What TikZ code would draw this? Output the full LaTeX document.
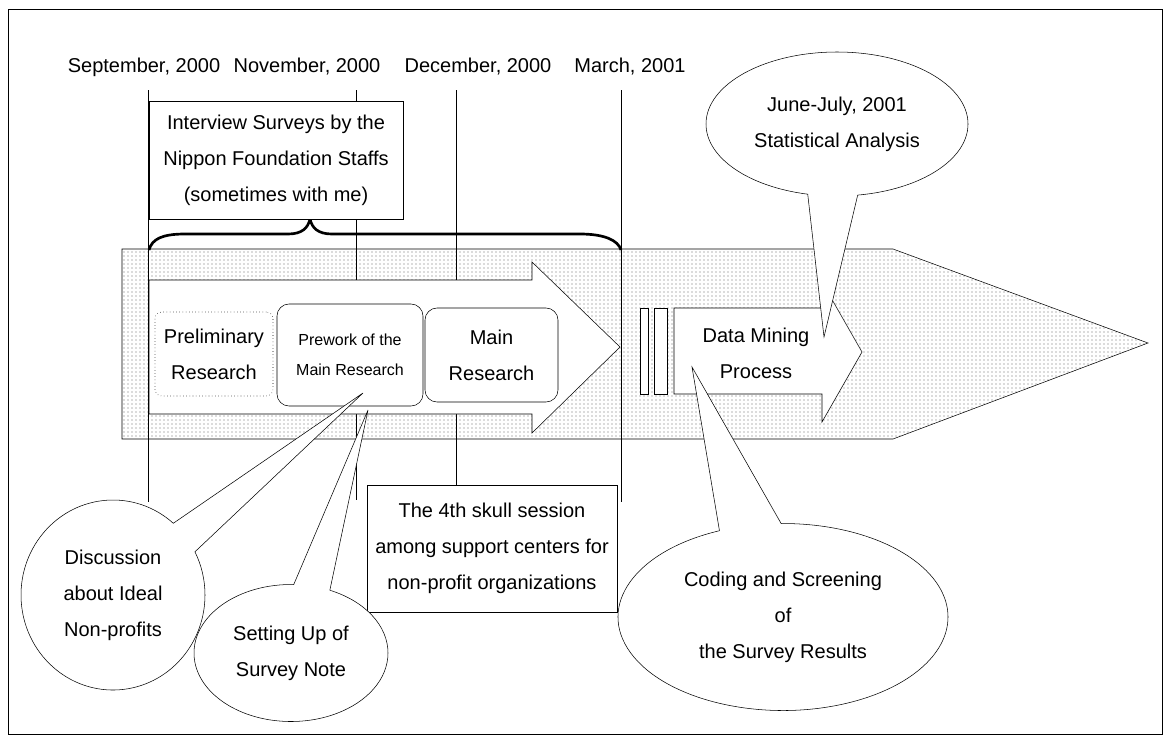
\documentclass[tikz,border=0pt]{standalone}
\usepackage{fontspec}
\setmainfont{Liberation Sans}
\usetikzlibrary{shapes.callouts,patterns}

\tikzset{
  lbl/.style={inner sep=0.75pt, align=center, font=\fontsize{15}{27}\selectfont},
  textbox/.style={lbl, draw, fill=white},
  stagebox/.style={textbox, rounded corners=9pt},
  bubble/.style={lbl, ellipse callout, draw, fill=white, callout pointer arc=22},
  band/.style={draw, pattern=dots, pattern color=black!60},
  brace/.style={line width=2pt}
}

\begin{document}
\begin{tikzpicture}[x=0.75pt,y=0.75pt,yscale=-1,xscale=1]
\useasboundingbox (0,0) rectangle (1170,740);

%Frame
\draw (8,9) rectangle (1162,734);

%Band (the long pencil shape)
\draw [band] (122,249) -- (893,249) -- (1148,343) -- (893,439) -- (122,439) -- cycle;

%Straight Lines
\draw (148,90) -- (148,502);
\draw (356,90) -- (356,500);
\draw (456,90) -- (456,485);
\draw (621,90) -- (621,502);

% Text Node
\node [lbl, anchor=base] (sep) at (144,72) {September, 2000};
% Text Node
\node [lbl, anchor=base] (nov) at (307,72) {November, 2000};
% Text Node
\node [lbl, anchor=base] (dec) at (478,72) {December, 2000};
% Text Node
\node [lbl, anchor=base] (mar) at (630,72) {March, 2001};

%Brace
\draw [brace] (149,250) .. controls (152,239) and (162,234) .. (185,234) -- (288,234) .. controls (302,234) and (308,228) .. (310,219) .. controls (312,228) and (318,234) .. (332,234) -- (580,234) .. controls (604,234) and (618,240) .. (621,250);

%Interview box
\node [textbox, minimum width=190.5pt, minimum height=88.5pt] (interview) at (276,160) {Interview Surveys by the\\Nippon Foundation Staffs\\(sometimes with me)};

%Research arrow
\draw [fill=white] (149,280) -- (532,280) -- (532,262) -- (620,347) -- (532,433) -- (532,414) -- (149,414) -- cycle;

%Stages
\node [textbox, dotted, rounded corners=5pt, minimum width=88.5pt, minimum height=63pt] (prelim) at (214,354) {Preliminary\\Research};
\node [stagebox, font=\fontsize{12}{22.5}\selectfont, minimum width=109.5pt, minimum height=76.5pt] (prework) at (350,355) {Prework of the\\Main Research};
\node [stagebox, minimum width=99.75pt, minimum height=70.5pt] (mainres) at (491.5,355) {Main\\Research};

%Break bars
\draw [fill=white] (640,308) rectangle (648,394);
\draw [fill=white] (654,308) rectangle (667,394);

%Data mining arrow
\draw [fill=white] (674,308) -- (822,308) -- (822,282) -- (862,352) -- (822,422) -- (822,394) -- (674,394) -- cycle;
% Text Node
\node [lbl] (mining) at (756,353) {Data Mining\\Process};

%Skull session box
\node [textbox, minimum width=187.5pt, minimum height=95.25pt] (skull) at (492,548.5) {The 4th skull session\\among support centers for\\non-profit organizations};

%Callouts
\node [bubble, minimum width=138pt, minimum height=142.5pt, callout absolute pointer={(363,393)}] (discuss) at (113,595) {Discussion\\about Ideal\\Non-profits};
\node [bubble, minimum width=145.5pt, minimum height=102.75pt, callout absolute pointer={(368,410)}] (setup) at (291,653) {Setting Up of\\Survey Note};
\node [bubble, minimum width=247.5pt, minimum height=140.25pt, callout absolute pointer={(692,367)}] (coding) at (783,617) {Coding and Screening\\of\\the Survey Results};
\node [bubble, minimum width=196.5pt, minimum height=108pt, callout absolute pointer={(824,337)}] (stats) at (837,124) {June-July, 2001\\Statistical Analysis};

\end{tikzpicture}
\end{document}
